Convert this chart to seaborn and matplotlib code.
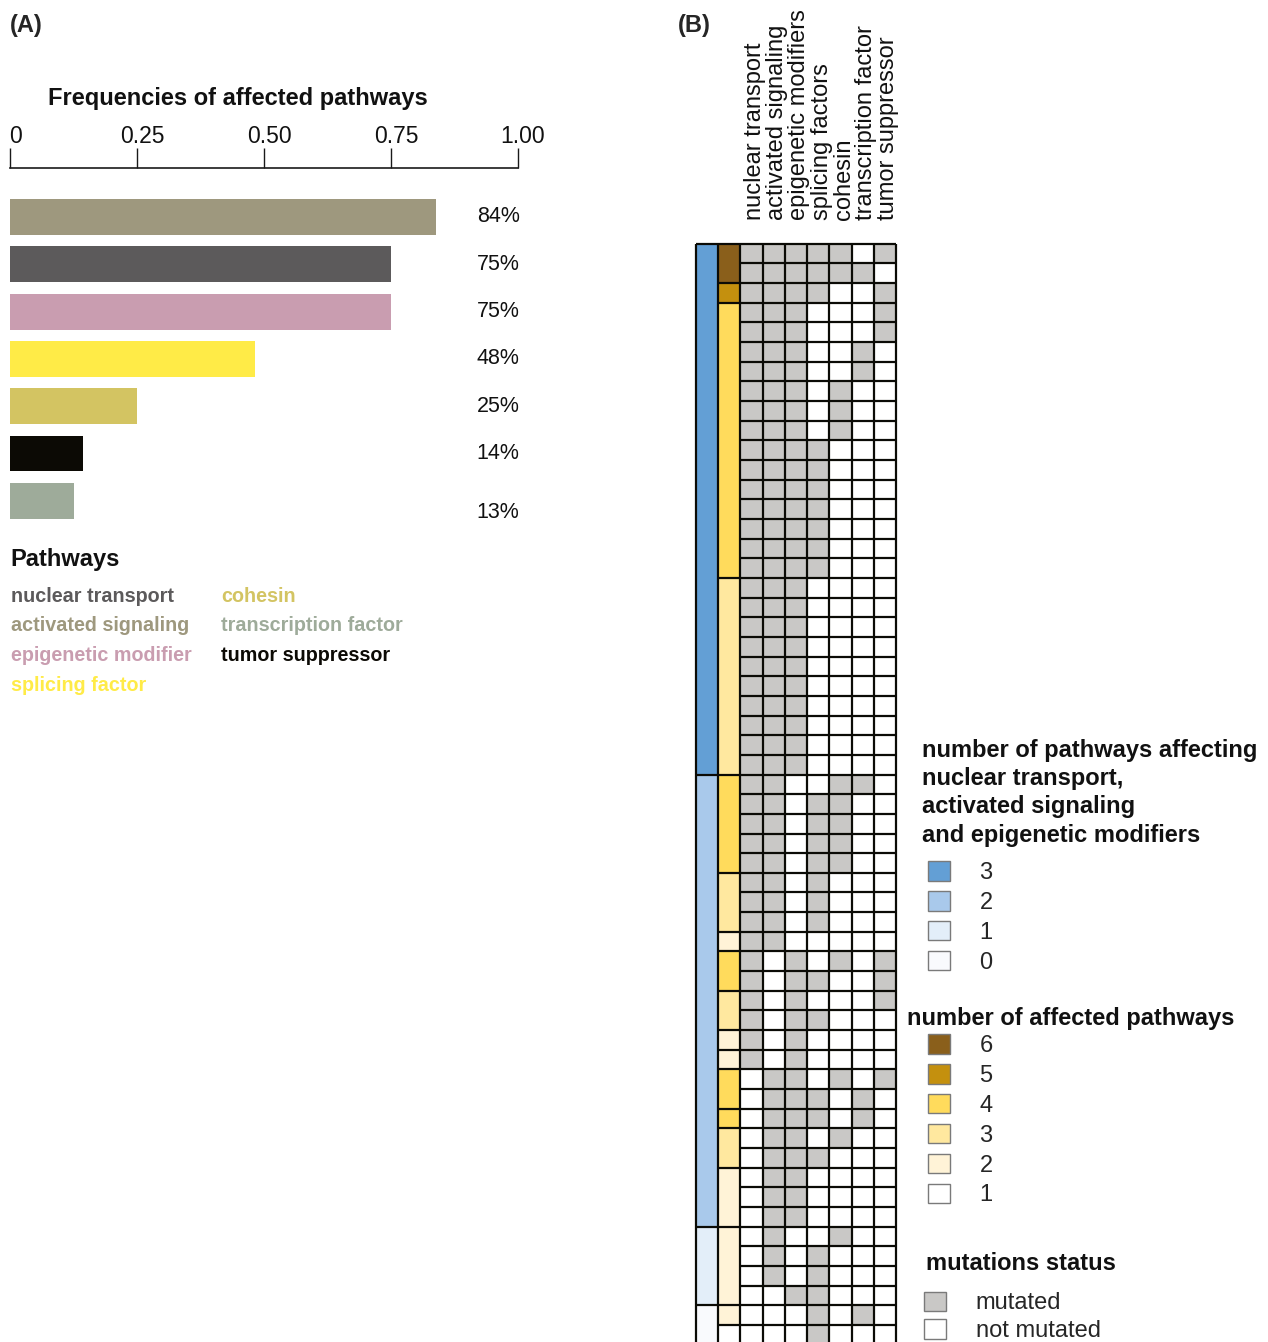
import numpy as np
import pandas as pd
import matplotlib
matplotlib.use("Agg")
import matplotlib.pyplot as plt
import seaborn as sns
from matplotlib.colors import ListedColormap
from matplotlib.patches import Patch
from matplotlib.transforms import ScaledTranslation

# ---------------- Panel A data ----------------
bar_pathways = ["activated signaling", "nuclear transport", "epigenetic modifier",
                "splicing factor", "cohesin", "tumor suppressor", "transcription factor"]
bar_frequencies = [0.839, 0.750, 0.750, 0.482, 0.250, 0.143, 0.125]
bar_percent_labels = ["84%", "75%", "75%", "48%", "25%", "14%", "13%"]
pathway_colors = {
    "nuclear transport": "#5C5A5B",
    "activated signaling": "#9E987E",
    "epigenetic modifier": "#C99DB0",
    "splicing factor": "#FFEB47",
    "cohesin": "#D3C462",
    "transcription factor": "#9EAB9A",
    "tumor suppressor": "#0C0A05",
}
freq_ticks = [0, 0.25, 0.50, 0.75, 1.00]
freq_tick_labels = ["0", "0.25", "0.50", "0.75", "1.00"]
legend_col1 = ["nuclear transport", "activated signaling", "epigenetic modifier", "splicing factor"]
legend_col2 = ["cohesin", "transcription factor", "tumor suppressor"]

# ---------------- Panel B data (56 samples, rows top to bottom) ----------------
heatmap_columns = ["nuclear transport", "activated signaling", "epigenetic modifiers",
                   "splicing factors", "cohesin", "transcription factor", "tumor suppressor"]
mut_nuclear_transport    = "11111111 11111111 11111111 11111111 11111111 11000000 00000000"
mut_activated_signaling  = "11111111 11111111 11111111 11111111 11110000 00111111 11111000"
mut_epigenetic_modifiers = "11111111 11111111 11111111 11100000 00001111 11111111 11000100"
mut_splicing_factors     = "11100000 00111111 10000000 00001111 11100101 00011010 00011111"
mut_cohesin              = "11000001 11000000 00000000 00011111 00001000 00100100 00100000"
mut_transcription_factor = "01000110 00000000 00000000 00010000 00000000 00011000 00000010"
mut_tumor_suppressor     = "10111000 00000000 00000000 00000000 00001110 00100000 00000000"
# sizes of the sample groups outlined in the "number of affected pathways" column
count_block_sizes = [2, 1, 14, 10, 5, 3, 1, 2, 2, 1, 1, 2, 1, 2, 3, 4, 1, 1]

core_levels = [3, 2, 1, 0]
core_colors = {3: "#639FD5", 2: "#A9C9EB", 1: "#E3EEF9", 0: "#F9FAFD"}
count_levels = [6, 5, 4, 3, 2, 1]
count_colors = {6: "#8A5F1B", 5: "#C4900E", 4: "#FFDB5C", 3: "#FFE89F", 2: "#FFF3D7", 1: "#FFFFFF"}
status_labels = ["mutated", "not mutated"]
status_colors = {1: "#C9C8C6", 0: "#FFFFFF"}

# ---------------- styling ----------------
sns.set_theme(style="white")
plt.rcParams["font.family"] = ["Liberation Sans", "DejaVu Sans"]

W, H = 1268, 1342
def fx(px):
    return px / W
def fy(py):
    return 1 - py / H

fig = plt.figure(figsize=(W / 100, H / 100), dpi=100)

# ================= Panel A =================
axA_top, axA_bot = 167.7, 529.0
bar_pitch = 47.3
first_center = 217.0
axA = fig.add_axes([fx(10), fy(axA_bot), 508 / W, (axA_bot - axA_top) / H])
dfA = pd.DataFrame({"pathway": bar_pathways, "frequency": bar_frequencies})
sns.barplot(data=dfA, x="frequency", y="pathway", hue="pathway", palette=pathway_colors,
            saturation=1, width=0.76, legend=False, orient="h", linewidth=0, ax=axA)
axA.set_xlim(0, 1)
axA.set_ylim((axA_bot - first_center) / bar_pitch, -(first_center - axA_top) / bar_pitch)
axA.set_xlabel("")
axA.set_ylabel("")
axA.set_yticks([])
for s in ["left", "right", "bottom"]:
    axA.spines[s].set_visible(False)
axA.spines["top"].set_visible(True)
axA.spines["top"].set_color("#1a1a1a")
axA.spines["top"].set_linewidth(1.2)
axA.xaxis.tick_top()
axA.set_xticks(freq_ticks)
axA.set_xticklabels(freq_tick_labels)
axA.tick_params(axis="x", which="major", direction="out", length=14.4, width=1.0,
                color="#1a1a1a", labelsize=16.5, pad=-0.5, top=True, bottom=False,
                labeltop=True, labelbottom=False, labelcolor="#111111")
for lab in axA.get_xticklabels():
    lab.set_transform(lab.get_transform() + ScaledTranslation(0.05, 0, fig.dpi_scale_trans))

last_label_drop = 0.24
for i, lab in enumerate(bar_percent_labels):
    dy = last_label_drop if i == len(bar_percent_labels) - 1 else 0
    axA.text(0.919, i + dy, lab, ha="left", va="center", fontsize=15.5, color="#111111")

fig.text(fx(10), fy(32), "(A)", fontsize=17, fontweight="bold", va="baseline", ha="left")
fig.text(fx(48), fy(105), "Frequencies of affected pathways", fontsize=17,
         fontweight="bold", va="baseline", ha="left", color="#111111")
fig.text(fx(10), fy(566), "Pathways", fontsize=17, fontweight="bold", va="baseline",
         ha="left", color="#111111")
for j, name in enumerate(legend_col1):
    fig.text(fx(11), fy(601.5 + 29.7 * j), name, fontsize=14.2, fontweight="bold",
             color=pathway_colors[name], va="baseline", ha="left")
for j, name in enumerate(legend_col2):
    fig.text(fx(221), fy(601.5 + 29.7 * j), name, fontsize=14.2, fontweight="bold",
             color=pathway_colors[name], va="baseline", ha="left")

# ================= Panel B =================
def bits(s):
    return np.array([int(c) for c in s.replace(" ", "")])

mut = np.column_stack([bits(mut_nuclear_transport), bits(mut_activated_signaling),
                       bits(mut_epigenetic_modifiers), bits(mut_splicing_factors),
                       bits(mut_cohesin), bits(mut_transcription_factor),
                       bits(mut_tumor_suppressor)])
n_rows = mut.shape[0]
core_count = mut[:, :3].sum(axis=1)
path_count = mut.sum(axis=1)

codes = np.column_stack([core_count, 3 + path_count, 10 + mut])
palette = ([core_colors[k] for k in range(4)] + [count_colors[k] for k in range(1, 7)]
           + [status_colors[0], status_colors[1]])
cmap = ListedColormap(palette)

row_pitch = 19.66
grid_top = 243.7
grid_bot = grid_top + n_rows * row_pitch
axB = fig.add_axes([fx(696), fy(grid_bot), 200 / W, (grid_bot - grid_top) / H])
sns.heatmap(codes, cmap=cmap, vmin=-0.5, vmax=11.5, cbar=False, linewidths=0,
            xticklabels=False, yticklabels=False, ax=axB)

lc = "#0b0b06"
lw = 1.6
kw = dict(colors=lc, linewidths=lw, clip_on=False)
axB.vlines(np.arange(codes.shape[1] + 1), 0, n_rows, **kw)
axB.hlines(np.arange(n_rows + 1), 2, codes.shape[1], **kw)
core_bounds = [0] + [i for i in range(1, n_rows) if core_count[i] != core_count[i - 1]] + [n_rows]
axB.hlines(core_bounds, 0, 1, **kw)
count_bounds = np.cumsum([0] + count_block_sizes)
axB.hlines(count_bounds, 1, 2, **kw)

axB.set_xticks(np.arange(2, 9) + 0.5)
axB.set_xticklabels(heatmap_columns, rotation=90, fontsize=17, color="#111111")
axB.xaxis.tick_top()
axB.tick_params(axis="x", length=0, pad=17, top=True, bottom=False,
                labeltop=True, labelbottom=False)
for lab in axB.get_xticklabels():
    lab.set_transform(lab.get_transform() + ScaledTranslation(0.035, 0, fig.dpi_scale_trans))
axB.set_yticks([])

fig.text(fx(678), fy(32), "(B)", fontsize=17, fontweight="bold", va="baseline", ha="left")

# legend titles
title1 = ["number of pathways affecting", "nuclear transport,", "activated signaling",
          "and epigenetic modifiers"]
for j, line in enumerate(title1):
    fig.text(fx(922), fy(756.7 + 28.35 * j), line, fontsize=17, fontweight="bold",
             va="baseline", ha="left", color="#111111")
fig.text(fx(906.7), fy(1025), "number of affected pathways", fontsize=17, fontweight="bold",
         va="baseline", ha="left", color="#111111")
fig.text(fx(926), fy(1270), "mutations status", fontsize=17, fontweight="bold",
         va="baseline", ha="left", color="#111111")

edge = "#7a7a7a"
leg_kw = dict(loc="upper left", frameon=False, fontsize=17, handlelength=0.93,
              handleheight=0.9, handletextpad=1.24, labelspacing=0.295, borderpad=0,
              borderaxespad=0)
h1 = [Patch(facecolor=core_colors[k], edgecolor=edge, linewidth=1) for k in core_levels]
fig.legend(h1, [str(k) for k in core_levels], bbox_to_anchor=(fx(928.3), fy(861)), **leg_kw)
h2 = [Patch(facecolor=count_colors[k], edgecolor=edge, linewidth=1) for k in count_levels]
fig.legend(h2, [str(k) for k in count_levels], bbox_to_anchor=(fx(928.3), fy(1034)), **leg_kw)
h3 = [Patch(facecolor=status_colors[1], edgecolor=edge, linewidth=1),
      Patch(facecolor=status_colors[0], edgecolor=edge, linewidth=1)]
leg3_kw = dict(leg_kw, labelspacing=0.2)
fig.legend(h3, status_labels, bbox_to_anchor=(fx(924.3), fy(1291.5)), **leg3_kw)

fig.savefig("out.png", dpi=100)
